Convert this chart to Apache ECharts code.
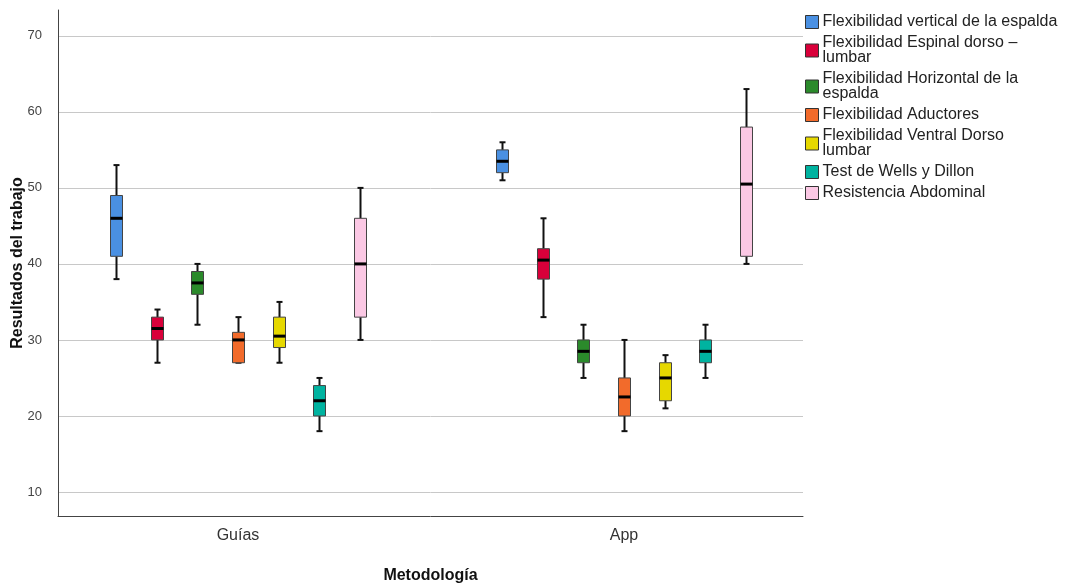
<!DOCTYPE html>
<html>
<head>
<meta charset="utf-8">
<script src="https://cdn.jsdelivr.net/npm/echarts@6/dist/echarts.min.js"></script>
<style>html,body{margin:0;padding:0;background:#fff}#c{width:1066px;height:586px}</style>
</head>
<body>
<div id="c"></div>
<script>
const categories = ['Guías', 'App'];
const seriesNames = [
  'Flexibilidad vertical de la espalda',
  'Flexibilidad Espinal dorso – lumbar',
  'Flexibilidad Horizontal de la espalda',
  'Flexibilidad Aductores',
  'Flexibilidad Ventral Dorso lumbar',
  'Test de Wells y Dillon',
  'Resistencia Abdominal'
];
const legendLabels = [
  'Flexibilidad vertical de la espalda',
  'Flexibilidad Espinal dorso –\nlumbar',
  'Flexibilidad Horizontal de la\nespalda',
  'Flexibilidad Aductores',
  'Flexibilidad Ventral Dorso\nlumbar',
  'Test de Wells y Dillon',
  'Resistencia Abdominal'
];
const colors = ['#4a90e2', '#d9003a', '#2b8a2b', '#f26b2b', '#e6d800', '#00b3a0', '#fbc8e4'];
// [min, Q1, median, Q3, max] per category (Guías, App)
const flexVertical   = [[38, 41, 46, 49, 53],       [51, 52, 53.5, 55, 56]];
const flexEspinal    = [[27, 30, 31.5, 33, 34],     [33, 38, 40.5, 42, 46]];
const flexHorizontal = [[32, 36, 37.5, 39, 40],     [25, 27, 28.5, 30, 32]];
const flexAductores  = [[27, 27, 30, 31, 33],       [18, 20, 22.5, 25, 30]];
const flexVentral    = [[27, 29, 30.5, 33, 35],     [21, 22, 25, 27, 28]];
const wellsDillon    = [[18, 20, 22, 24, 25],       [25, 27, 28.5, 30, 32]];
const resistencia    = [[30, 33, 40, 46, 50],       [40, 41, 50.5, 58, 63]];
const allSeries = [flexVertical, flexEspinal, flexHorizontal, flexAductores, flexVentral, wellsDillon, resistencia];

const chart = echarts.init(document.getElementById('c'));
const BOX_STEP = 0.1052; // spacing between boxes in group units
const BOX_W = 12;

function makeRender(k) {
  return function (params, api) {
    const g = api.value(0) + (k - 3) * BOX_STEP;
    const pMin = api.coord([g, api.value(1)]);
    const pQ1 = api.coord([g, api.value(2)]);
    const pMed = api.coord([g, api.value(3)]);
    const pQ3 = api.coord([g, api.value(4)]);
    const pMax = api.coord([g, api.value(5)]);
    const x = Math.round(pMin[0]) + 0.5;
    const hw = BOX_W / 2;
    const capW = 3;
    const lineStyle = { stroke: '#111', lineWidth: 2 };
    return {
      type: 'group',
      children: [
        { type: 'line', shape: { x1: x, y1: pMax[1], x2: x, y2: pQ3[1] }, style: lineStyle },
        { type: 'line', shape: { x1: x, y1: pQ1[1], x2: x, y2: pMin[1] }, style: lineStyle },
        { type: 'line', shape: { x1: x - capW, y1: pMax[1], x2: x + capW, y2: pMax[1] }, style: lineStyle },
        { type: 'line', shape: { x1: x - capW, y1: pMin[1], x2: x + capW, y2: pMin[1] }, style: lineStyle },
        { type: 'rect', shape: { x: x - hw, y: pQ3[1], width: BOX_W, height: pQ1[1] - pQ3[1] },
          style: { fill: colors[k], stroke: '#444', lineWidth: 1 } },
        { type: 'line', shape: { x1: x - hw, y1: pMed[1], x2: x + hw, y2: pMed[1] },
          style: { stroke: '#000', lineWidth: 3 } }
      ]
    };
  };
}

const series = allSeries.map((arr, k) => ({
  name: seriesNames[k],
  type: 'custom',
  renderItem: makeRender(k),
  itemStyle: { color: colors[k], borderColor: '#333', borderWidth: 1 },
  encode: { x: 0, y: [1, 2, 3, 4, 5] },
  data: arr.map((v, i) => [i].concat(v)),
  silent: true
}));

chart.setOption({
  animation: false,
  textStyle: { fontFamily: 'Liberation Sans, Arial, sans-serif' },
  color: colors,
  grid: { left: 58, right: 263, top: 10, bottom: 70, outerBoundsMode: 'none', containLabel: false },
  legend: {
    orient: 'vertical',
    left: 800,
    top: 9,
    itemWidth: 13,
    itemHeight: 13,
    itemGap: 5,
    icon: 'rect',
    itemStyle: { borderColor: '#333', borderWidth: 1 },
    textStyle: { fontSize: 16, color: '#222', lineHeight: 15, padding: [0, 0, 0, -1] },
    formatter: function (name) { return legendLabels[seriesNames.indexOf(name)]; },
    data: seriesNames
  },
  xAxis: {
    type: 'value',
    min: -0.4663,
    max: 1.4637,
    name: 'Metodología',
    nameLocation: 'middle',
    nameGap: 52,
    nameMoveOverlap: false,
    nameTextStyle: { fontSize: 16, fontWeight: 'bold', color: '#111' },
    axisLine: { show: true, onZero: false, lineStyle: { color: '#444', width: 1 } },
    axisTick: { show: false },
    splitLine: { show: false },
    axisLabel: {
      customValues: [0, 1],
      formatter: function (v) { return categories[Math.round(v)]; },
      fontSize: 16, color: '#333', margin: 12
    }
  },
  yAxis: {
    type: 'value',
    min: 6.84,
    max: 73.4,
    name: 'Resultados del trabajo',
    nameLocation: 'middle',
    nameGap: 32,
    nameMoveOverlap: false,
    nameTextStyle: { fontSize: 16, fontWeight: 'bold', color: '#111' },
    axisLine: { show: true, onZero: false, lineStyle: { color: '#444', width: 1 } },
    axisTick: { show: false },
    axisLabel: { showMinLabel: false, showMaxLabel: false, fontSize: 13, color: '#444', margin: 16 },
    splitLine: { show: true, showMinLine: false, showMaxLine: false, lineStyle: { color: '#c8c8c8', width: 1 } }
  },
  series: series
});
</script>
</body>
</html>
